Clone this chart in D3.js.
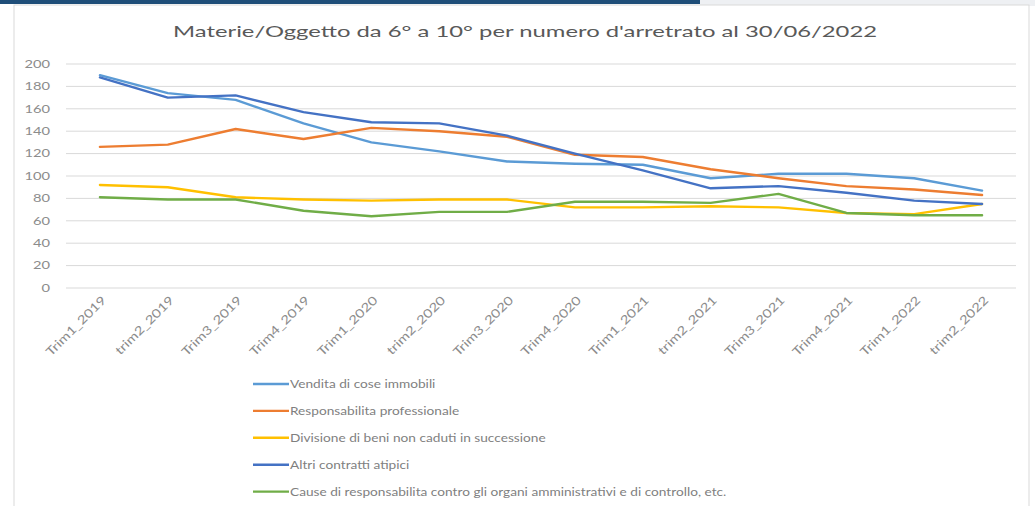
<!DOCTYPE html>
<html>
<head>
<meta charset="utf-8">
<script src="https://cdn.jsdelivr.net/npm/d3@7"></script>
<style>
  html, body { margin: 0; padding: 0; background: #fff; }
  svg text { font-family: Lato, "Open Sans", sans-serif; }
</style>
</head>
<body>
<svg id="chart" width="1035" height="506"></svg>
<script>
// categories and series
const quarters = ["Trim1_2019", "trim2_2019", "Trim3_2019", "Trim4_2019", "Trim1_2020", "trim2_2020", "Trim3_2020",
                  "Trim4_2020", "Trim1_2021", "trim2_2021", "Trim3_2021", "Trim4_2021", "Trim1_2022", "trim2_2022"];
const vendita = [190, 174, 168, 147, 130, 122, 113, 111, 110, 98, 102, 102, 98, 87];
const responsabilita = [126, 128, 142, 133, 143, 140, 135, 119, 117, 106, 98, 91, 88, 83];
const divisione = [92, 90, 81, 79, 78, 79, 79, 72, 72, 73, 72, 67, 66, 75];
const altri = [188, 170, 172, 157, 148, 147, 136, 120, 105, 89, 91, 85, 78, 75];
const cause = [81, 79, 79, 69, 64, 68, 68, 77, 77, 76, 84, 67, 65, 65];
const yTicks = [0, 20, 40, 60, 80, 100, 120, 140, 160, 180, 200];

const seriesNames = ["Vendita di cose immobili", "Responsabilita professionale",
                     "Divisione di beni non caduti in successione", "Altri contratti atipici",
                     "Cause di responsabilita contro gli organi amministrativi e di controllo, etc."];
const seriesValues = [vendita, responsabilita, divisione, altri, cause];
const seriesColors = ["#5B9BD5", "#ED7D31", "#FFC000", "#4472C4", "#70AD47"];

const svg = d3.select("#chart");

// page decoration: top bar and card frame
svg.append("rect").attr("x", 700).attr("y", 0).attr("width", 335).attr("height", 6).attr("fill", "#eef0f3");
svg.append("rect").attr("x", 0).attr("y", 0).attr("width", 700).attr("height", 4).attr("fill", "#1F4E79");
svg.append("rect").attr("x", 14).attr("y", 5).attr("width", 1015).attr("height", 510)
    .attr("fill", "#fff").attr("stroke", "#d9d9d9").attr("stroke-width", 1);

const plot = { left: 66, right: 1016, top: 64, bottom: 288 };

const x = d3.scalePoint().domain(quarters).range([plot.left, plot.right]).padding(0.5);
const y = d3.scaleLinear().domain([0, 200]).range([plot.bottom, plot.top]);

// title
svg.append("text")
    .attr("x", 173).attr("y", 37)
    .attr("textLength", 704).attr("lengthAdjust", "spacingAndGlyphs")
    .attr("font-size", 16).attr("fill", "#595959")
    .text("Materie/Oggetto da 6° a 10° per numero d'arretrato al 30/06/2022");

// gridlines
svg.append("g")
  .selectAll("line")
  .data(yTicks)
  .join("line")
    .attr("x1", plot.left).attr("x2", plot.right)
    .attr("y1", d => y(d)).attr("y2", d => y(d))
    .attr("stroke", "#d9d9d9").attr("stroke-width", 1);

// y axis labels
const yAxis = svg.append("g")
    .attr("transform", `translate(${plot.left},0)`)
    .call(d3.axisLeft(y).tickValues(yTicks).tickSize(0).tickPadding(0));
yAxis.select(".domain").remove();
yAxis.selectAll("text")
    .attr("x", -11.4)
    .attr("transform", "scale(1.4,1)")
    .attr("font-size", 10.5)
    .attr("fill", "#8c8c8c")
    .style("font-family", "Lato, sans-serif");

// x axis labels, rotated
svg.append("g")
  .selectAll("g")
  .data(quarters)
  .join("g")
    .attr("transform", d => `translate(${x(d) + 4},${plot.bottom + 10}) rotate(-45)`)
  .append("text")
    .attr("text-anchor", "end")
    .attr("dy", "0.35em")
    .attr("transform", "scale(1.25,1)")
    .attr("font-size", 12)
    .attr("fill", "#8c8c8c")
    .text(d => d);

// series lines
const line = d3.line()
    .x((d, i) => x(quarters[i]))
    .y(d => y(d));

svg.append("g")
  .selectAll("path")
  .data(seriesValues)
  .join("path")
    .attr("d", line)
    .attr("fill", "none")
    .attr("stroke", (d, i) => seriesColors[i])
    .attr("stroke-width", 2.4)
    .attr("stroke-linejoin", "round")
    .attr("stroke-linecap", "round");

// legend
const legend = svg.append("g")
  .selectAll("g")
  .data(seriesNames)
  .join("g")
    .attr("transform", (d, i) => `translate(253,${384 + i * 26.9})`);
legend.append("line")
    .attr("x1", 0).attr("x2", 36)
    .attr("stroke", (d, i) => seriesColors[i])
    .attr("stroke-width", 2.4);
legend.append("text")
    .attr("x", 37 / 1.14).attr("dy", "0.35em")
    .attr("transform", "scale(1.14,1)")
    .attr("font-size", 12)
    .attr("fill", "#7f7f7f")
    .text(d => d);
</script>
</body>
</html>
